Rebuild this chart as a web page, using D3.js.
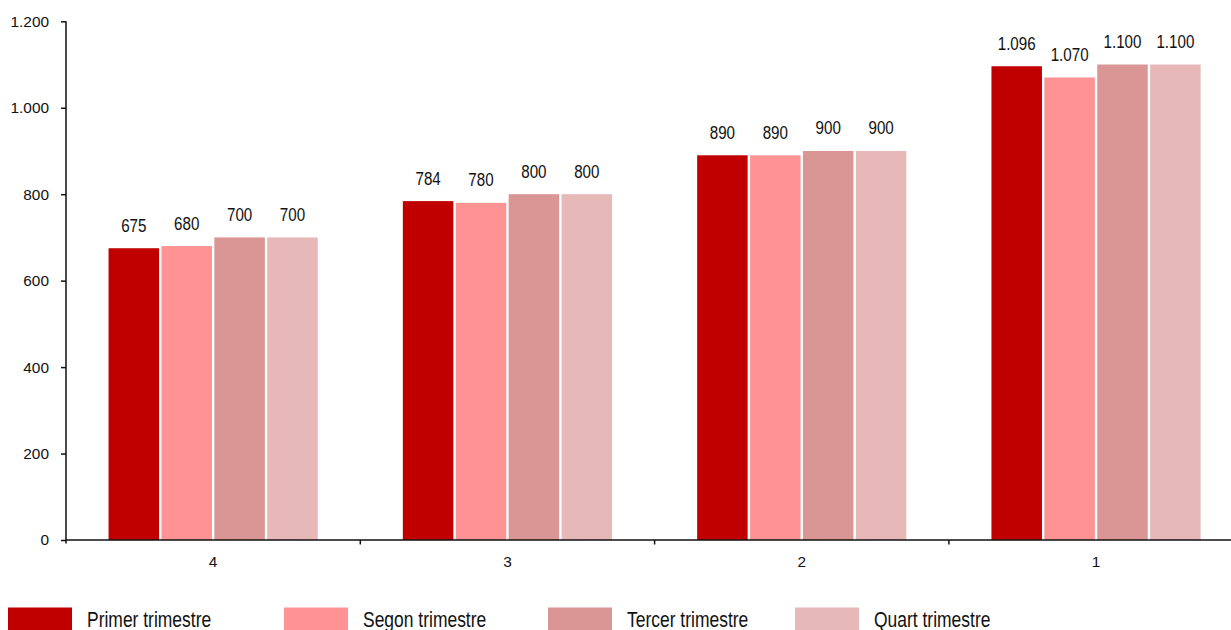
<!DOCTYPE html>
<html>
<head>
<meta charset="utf-8">
<script src="https://cdn.jsdelivr.net/npm/d3@7"></script>
<style>
  html, body { margin: 0; padding: 0; background: #fff; }
  svg { display: block; }
  .lbl { font-family: "Liberation Sans", Arial, sans-serif; }
  .axis text { font-family: "Liberation Sans", Arial, sans-serif; font-size: 15.4px; fill: #111; }
</style>
</head>
<body>
<svg id="chart" width="1231" height="630"></svg>
<script>
// Categories along the x axis
const categories = ["4", "3", "2", "1"];
// Series names (quarters)
const seriesNames = ["Primer trimestre", "Segon trimestre", "Tercer trimestre", "Quart trimestre"];
// Values per series, in category order
const primer = [675, 784, 890, 1096];
const segon  = [680, 780, 890, 1070];
const tercer = [700, 800, 900, 1100];
const quart  = [700, 800, 900, 1100];
// Y axis tick values
const yTicks = [0, 200, 400, 600, 800, 1000, 1200];

const seriesValues = [primer, segon, tercer, quart];
const colors = ["#C00000", "#FF9393", "#D99694", "#E6B9B8"];

const fmt = v => d3.format(",")(v).replace(/,/g, ".");

const svg = d3.select("#chart");
const left = 66, zeroY = 540, topY = 21.3, bandW = 294.3;
const narrow = 0.82; // horizontal condensing for the narrow label face

const x0 = d3.scaleBand().domain(categories).range([left, left + bandW * categories.length]).padding(0);
const groupOff = x0.bandwidth() * 0.1405;
const x1 = d3.scaleBand().domain(seriesNames).range([groupOff, x0.bandwidth() - groupOff]).padding(0);
const y = d3.scaleLinear().domain([0, 1200]).range([zeroY, topY]);

const rows = categories.map((c, i) => ({
  cat: c,
  vals: seriesNames.map((s, j) => ({ s, j, v: seriesValues[j][i] }))
}));

// Bars
const groups = svg.append("g").selectAll("g").data(rows).join("g")
  .attr("transform", d => `translate(${x0(d.cat)},0)`);

const gap = 2.4;
groups.selectAll("rect").data(d => d.vals).join("rect")
  .attr("x", d => x1(d.s) + gap / 2)
  .attr("width", x1.bandwidth() - gap)
  .attr("y", d => y(d.v))
  .attr("height", d => y(0) - y(d.v))
  .attr("fill", d => colors[d.j]);

// Value labels
groups.selectAll("text").data(d => d.vals).join("text")
  .attr("class", "lbl")
  .attr("transform", d => `translate(${x1(d.s) + x1.bandwidth() / 2},${y(d.v) - 16.5}) scale(${narrow},1)`)
  .attr("text-anchor", "middle")
  .attr("font-size", "18.5px")
  .attr("fill", "#111")
  .text(d => fmt(d.v));

// Y axis
const yAxis = svg.append("g").attr("class", "axis")
  .attr("transform", `translate(${left},0)`)
  .call(d3.axisLeft(y).tickValues(yTicks).tickSize(5).tickPadding(12).tickFormat(fmt));
yAxis.select(".domain").attr("d", `M0,${topY}V${zeroY + 3.5}`).attr("stroke", "#111").attr("stroke-width", 1.5);
yAxis.selectAll(".tick line").attr("stroke", "#111").attr("stroke-width", 1.5);

// X axis: labels centred in each band, tick marks at band boundaries
const xAxis = svg.append("g").attr("class", "axis")
  .attr("transform", `translate(0,${zeroY})`)
  .call(d3.axisBottom(x0).tickSize(0).tickPadding(16));
xAxis.select(".domain").attr("d", `M${left},0H1231`).attr("stroke", "#111").attr("stroke-width", 1.5);
xAxis.selectAll(".tick text").attr("dy", "0.71em");
xAxis.selectAll(".boundary").data(categories.slice(1)).join("line")
  .attr("class", "boundary")
  .attr("x1", d => x0(d)).attr("x2", d => x0(d))
  .attr("y1", 0).attr("y2", 4.5)
  .attr("stroke", "#111").attr("stroke-width", 1.5);

// Legend
const legendX = [8, 284, 548, 795];
const legend = svg.append("g").selectAll("g").data(seriesNames).join("g")
  .attr("transform", (d, i) => `translate(${legendX[i]},607.5)`);
legend.append("rect").attr("width", 64).attr("height", 24).attr("fill", (d, i) => colors[i]);
legend.append("text")
  .attr("class", "lbl")
  .attr("transform", `translate(79,19) scale(${narrow},1)`)
  .attr("font-size", "21.3px")
  .attr("fill", "#111")
  .text(d => d);
</script>
</body>
</html>
